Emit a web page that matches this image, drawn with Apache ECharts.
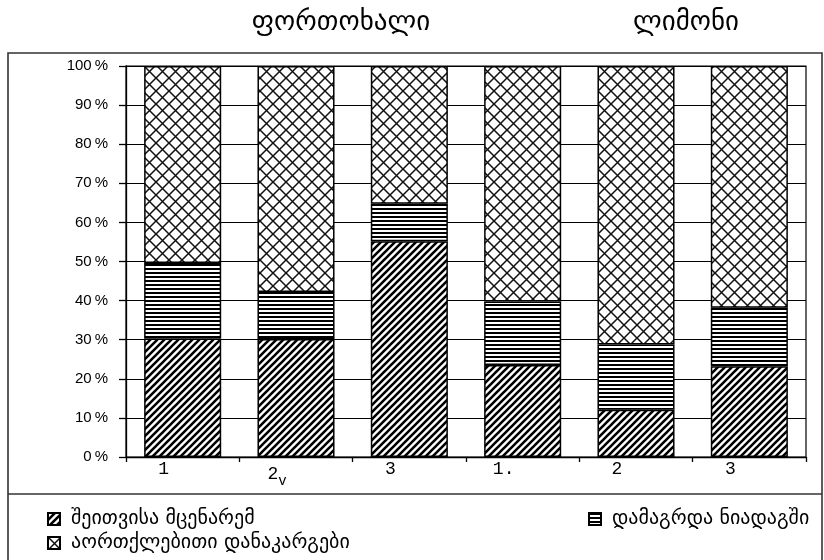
<!DOCTYPE html>
<html>
<head>
<meta charset="utf-8">
<script src="https://cdn.jsdelivr.net/npm/echarts@6/dist/echarts.min.js"></script>
<style>
  html, body { margin: 0; padding: 0; background: #fff; }
  #chart { width: 824px; height: 560px; }
</style>
</head>
<body>
<div id="chart"></div>
<script>
// Categories (two groups of three samples)
const categories = ['1', '2,v', '3', '1.', '2', '3'];
const groupTitles = ['ფორთოხალი', 'ლიმონი'];

// Series names
const seriesNames = ['შეითვისა მცენარემ', 'დამაგრდა ნიადაგში', 'აორთქლებითი დანაკარგები'];

// Shares, % of total
const absorbed = [30.3, 30.2, 55.2, 23.5, 12.1, 23.2];
const retained = [19.3, 12.0, 9.6, 16.3, 16.7, 15.0];
const evaporated = [50.4, 57.8, 35.2, 60.2, 71.2, 61.8];

// Y-axis tick values
const yTicks = [0, 10, 20, 30, 40, 50, 60, 70, 80, 90, 100];

// Hatch fills drawn on small tiles
function hatch(kind) {
  const c = document.createElement('canvas');
  const ctx = c.getContext('2d');
  if (kind === 'diag') {
    const s = 7;
    c.width = s; c.height = s;
    ctx.fillStyle = '#fff'; ctx.fillRect(0, 0, s, s);
    ctx.strokeStyle = '#000'; ctx.lineWidth = 2.6;
    ctx.beginPath();
    for (let k = -1; k <= 1; k++) {
      ctx.moveTo(k * s - 1, s + 1); ctx.lineTo(k * s + s + 1, -1);
    }
    ctx.stroke();
  } else if (kind === 'horiz') {
    c.width = 4; c.height = 4;
    ctx.fillStyle = '#fff'; ctx.fillRect(0, 0, 4, 4);
    ctx.fillStyle = '#000'; ctx.fillRect(0, 0, 4, 2);
  } else {
    const s = 13;
    c.width = s; c.height = s;
    ctx.fillStyle = '#fff'; ctx.fillRect(0, 0, s, s);
    ctx.strokeStyle = '#111'; ctx.lineWidth = 1.5;
    ctx.beginPath();
    ctx.moveTo(0, 0); ctx.lineTo(s, s);
    ctx.moveTo(0, s); ctx.lineTo(s, 0);
    ctx.stroke();
  }
  return { image: c, repeat: 'repeat' };
}

const fills = [hatch('diag'), hatch('horiz'), hatch('cross')];
const values = [absorbed, retained, evaporated];

const chart = echarts.init(document.getElementById('chart'), null, { renderer: 'canvas' });

const geoFont = "'DejaVu Sans', 'Noto Sans', sans-serif";

chart.setOption({
  animation: false,
  backgroundColor: '#fff',
  grid: {
    left: 126, right: 18, top: 66, bottom: 103,
    show: true, borderColor: '#000', borderWidth: 1.2, backgroundColor: 'transparent'
  },
  graphic: [
    { type: 'rect', shape: { x: 8, y: 53, width: 814, height: 510 },
      style: { fill: 'none', stroke: '#333', lineWidth: 1.6 }, silent: true },
    { type: 'line', shape: { x1: 8, y1: 494, x2: 822, y2: 494 },
      style: { stroke: '#333', lineWidth: 1.4 }, silent: true },
    { type: 'text', x: 341, y: 23, style: { text: groupTitles[0], font: '27px ' + geoFont,
      fill: '#000', textAlign: 'center', textVerticalAlign: 'middle' } },
    { type: 'text', x: 686, y: 23, style: { text: groupTitles[1], font: '27px ' + geoFont,
      fill: '#000', textAlign: 'center', textVerticalAlign: 'middle' } }
  ],
  legend: [
    { data: [seriesNames[0]], left: 42, top: 504 },
    { data: [seriesNames[1]], left: 583, top: 504 },
    { data: [seriesNames[2]], left: 42, top: 528 }
  ].map(l => Object.assign(l, {
    selectedMode: false, icon: 'rect', itemWidth: 12, itemHeight: 12, itemGap: 0,
    textStyle: { fontFamily: geoFont, fontSize: 20, color: '#000', padding: [0, 0, 0, 6] }
  })),
  xAxis: {
    type: 'category',
    data: categories,
    axisLine: { lineStyle: { color: '#000', width: 1.3 } },
    axisTick: { show: true, length: 5, lineStyle: { color: '#000', width: 1.3 } },
    axisLabel: {
      margin: 3, color: '#000', fontFamily: "'Liberation Mono', monospace", fontSize: 18,
      padding: [0, 38, 0, 0],
      formatter: v => {
        const p = v.split(',');
        return p.length > 1 ? p[0] + '{sub|' + p[1] + '}' : v;
      },
      rich: { sub: { fontFamily: "'Liberation Mono', monospace", fontSize: 14, padding: [14, 0, 0, 0], color: '#000' } }
    }
  },
  yAxis: {
    type: 'value',
    min: yTicks[0], max: yTicks[yTicks.length - 1], interval: 10,
    axisLine: { show: true, lineStyle: { color: '#000', width: 1.3 } },
    axisTick: { show: true, length: 7, lineStyle: { color: '#000', width: 1.3 } },
    splitLine: { show: true, lineStyle: { color: '#000', width: 1.2 } },
    axisLabel: {
      margin: 18, color: '#000', fontFamily: "'Liberation Sans', Arial, sans-serif", fontSize: 15,
      formatter: v => v + '\u2009%'
    }
  },
  series: values.map((d, i) => ({
    name: seriesNames[i],
    type: 'bar',
    stack: 'total',
    data: d,
    barCategoryGap: '32%',
    itemStyle: { color: fills[i], borderColor: '#000', borderWidth: 1.5 }
  }))
});
</script>
</body>
</html>
